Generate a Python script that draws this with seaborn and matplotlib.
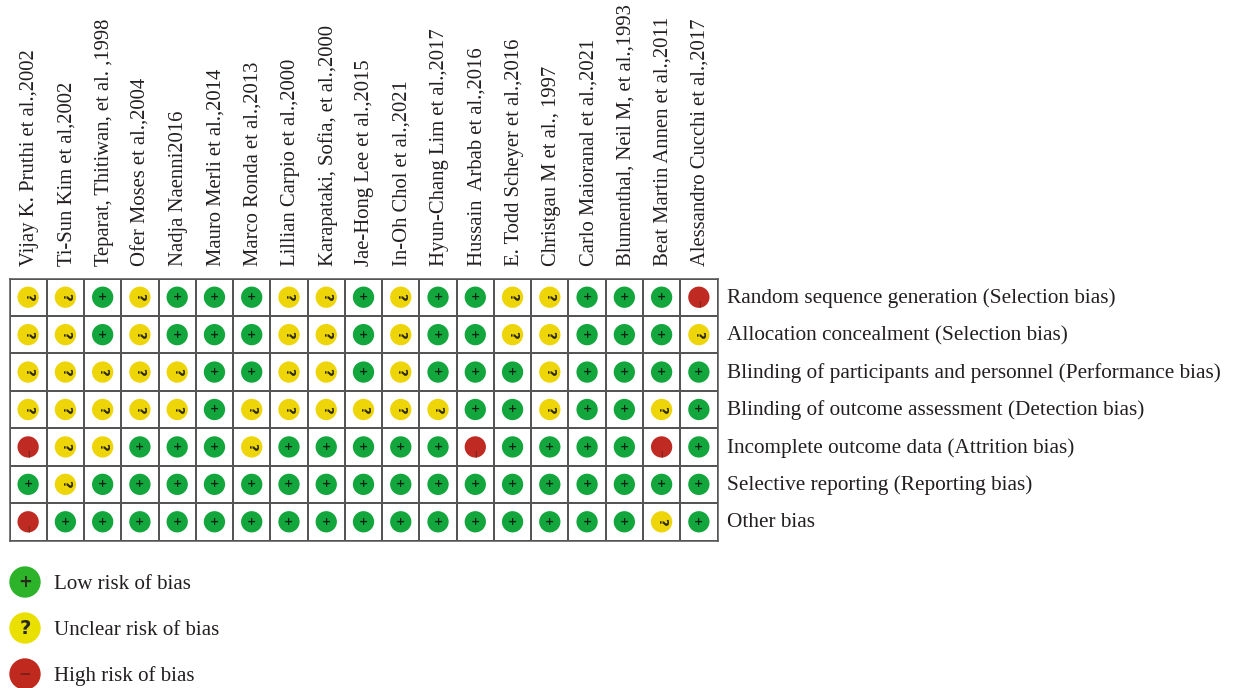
import numpy as np
import pandas as pd
import seaborn as sns
import matplotlib
matplotlib.use('Agg')
import matplotlib.pyplot as plt
from matplotlib.transforms import ScaledTranslation

studies = ['Vijay K. Pruthi et al.,2002', 'Ti-Sun Kim et al,2002', 'Teparat, Thitiwan, et al. ,1998',
           'Ofer Moses et al.,2004', 'Nadja Naenni2016', 'Mauro Merli et al.,2014',
           'Marco Ronda et al.,2013', 'Lillian Carpio et al.,2000', 'Karapataki, Sofia, et al.,2000',
           'Jae-Hong Lee et al.,2015', 'In-Oh Chol et al.,2021', 'Hyun-Chang Lim et al.,2017',
           'Hussain  Arbab et al.,2016', 'E. Todd Scheyer et al.,2016', 'Christgau M et al., 1997',
           'Carlo Maioranal et al.,2021', 'Blumenthal, Neil M, et al.,1993', 'Beat Martin Annen et al.,2011',
           'Alessandro Cucchi et al.,2017']
domains = ['Random sequence generation (Selection bias)', 'Allocation concealment (Selection bias)',
           'Blinding of participants and personnel (Performance bias)', 'Blinding of outcome assessment (Detection bias)',
           'Incomplete outcome data (Attrition bias)', 'Selective reporting (Reporting bias)', 'Other bias']

# L = low, U = unclear, H = high, one string per domain
row_random = 'UULULLLUULULLUULLLH'
row_alloc = 'UULULLLUULULLUULLLU'
row_perf = 'UUUUULLUULULLLULLLL'
row_detect = 'UUUUULUUUUUULLULLUL'
row_attr = 'HUULLLULLLLLHLLLLHL'
row_report = 'LULLLLLLLLLLLLLLLLL'
row_other = 'HLLLLLLLLLLLLLLLLUL'
rows = [row_random, row_alloc, row_perf, row_detect, row_attr, row_report, row_other]

risk_names = ['Low risk of bias', 'Unclear risk of bias', 'High risk of bias']
risk_codes = ['L', 'U', 'H']
cell_colors = {'L': '#12a63c', 'U': '#edd508', 'H': '#bf2b22'}
key_colors = {'L': '#2cb32a', 'U': '#e9e000', 'H': '#c0291e'}
text_color = '#231f20'
grid_color = '#555555'
serif = 'Liberation Serif'

sns.set_theme(style='white')
plt.rcParams['font.family'] = [serif, 'DejaVu Serif']

W, H = 1235, 688
fig = plt.figure(figsize=(W / 100, H / 100), dpi=100)

# tableau principal
ax = fig.add_axes([9.5 / W, 1 - 540.5 / H, 708 / W, 262 / H])
blank = pd.DataFrame(np.zeros((len(domains), len(studies))), index=domains, columns=studies)
sns.heatmap(blank, ax=ax, cmap=['white'], cbar=False, linewidths=1.1, linecolor=grid_color,
            xticklabels=True, yticklabels=True)
for side in ax.spines.values():
    side.set_visible(True)
    side.set_color(grid_color)
    side.set_linewidth(1.1)

ax.xaxis.tick_top()
ax.yaxis.tick_right()
ax.tick_params(axis='x', length=0, pad=9, labelsize=14.85, labelcolor=text_color)
ax.tick_params(axis='y', length=0, pad=7, labelsize=15.3, labelcolor=text_color)
plt.setp(ax.get_xticklabels(), rotation=90, ha='center', va='bottom')
plt.setp(ax.get_yticklabels(), rotation=0, ha='left', va='center')

# décalage léger des étiquettes
for t in ax.get_xticklabels():
    t.set_transform(t.get_transform() + ScaledTranslation(1.5 / 100, 0, fig.dpi_scale_trans))
for t in ax.get_yticklabels():
    t.set_transform(t.get_transform() + ScaledTranslation(0, -1 / 100, fig.dpi_scale_trans))

long = pd.DataFrame([{'x': j + 0.5, 'y': i + 0.5, 'risk': code}
                     for i, row in enumerate(rows) for j, code in enumerate(row)])
sns.scatterplot(data=long, x='x', y='y', hue='risk', palette=cell_colors, s=235, linewidth=0,
                legend=False, ax=ax, zorder=3)
ax.set_xlabel('')
ax.set_ylabel('')

# petits symboles dans les cercles
for _, r in long.iterrows():
    if r['risk'] == 'L':
        ax.text(r['x'], r['y'], '+', ha='center', va='center', fontsize=8, fontweight='bold',
                color='#0c2416', family='DejaVu Sans', zorder=4)
    elif r['risk'] == 'U':
        ax.text(r['x'], r['y'], '?', ha='center', va='center', fontsize=9.5, fontweight='bold', rotation=-90,
                color='#2a260c', family='DejaVu Sans', zorder=4)
    else:
        ax.text(r['x'], r['y'] + 0.2, '|', ha='center', va='center', fontsize=5,
                color='#4a2018', family='DejaVu Sans', zorder=4)

# légende
key = pd.DataFrame({'x': [0, 0, 0], 'y': risk_names, 'risk': risk_codes})
ax2 = fig.add_axes([9 / W, 0, 32 / W, 129 / H])
sns.scatterplot(data=key, x='x', y='y', hue='risk', palette=key_colors, s=510, linewidth=0,
                legend=False, ax=ax2, clip_on=False)
ax2.set_ylim(2.304, -0.5)
ax2.set_xlim(-0.5, 0.5)
ax2.set_xlabel('')
ax2.set_ylabel('')
ax2.set_xticks([])
ax2.yaxis.tick_right()
ax2.tick_params(axis='y', length=0, pad=9, labelsize=15.1, labelcolor=text_color)
sns.despine(ax=ax2, left=True, right=True, top=True, bottom=True)
ax2.patch.set_alpha(0)
for i, sign in enumerate(['+', '?', '\u2212']):
    ax2.text(0, i, sign, ha='center', va='center', fontsize=[12, 14, 11][i], fontweight='bold',
             color='#2a2a1a' if i < 2 else '#7a2018', family='DejaVu Sans', zorder=4)

fig.savefig('out.png', dpi=100)
